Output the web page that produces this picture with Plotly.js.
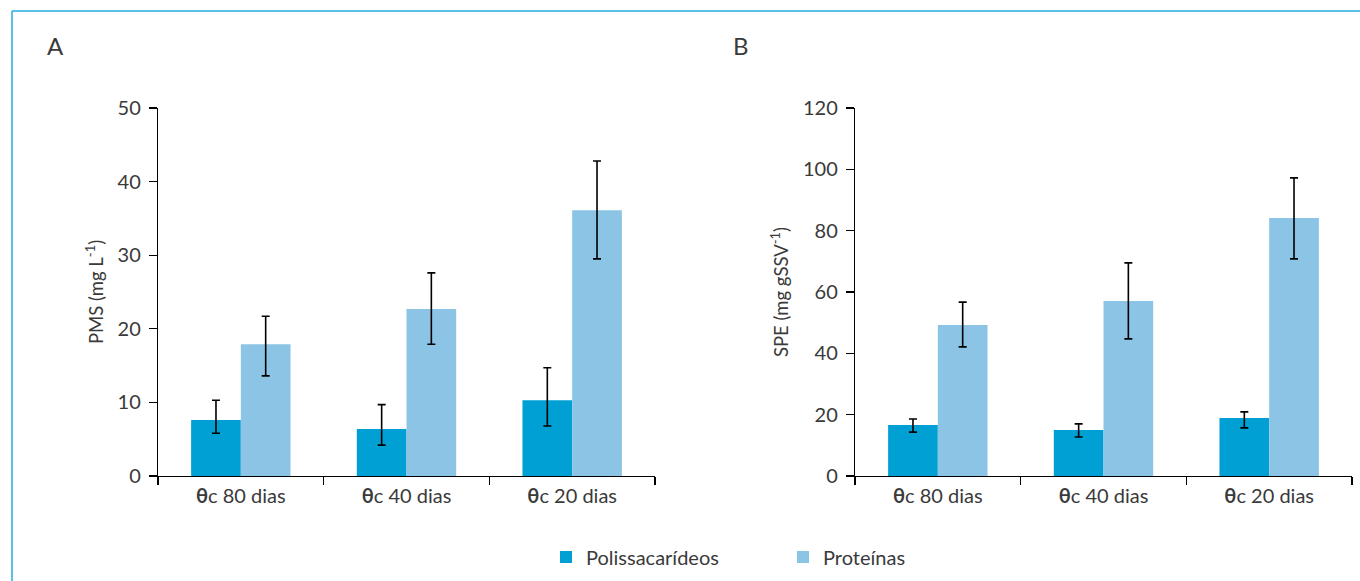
<!DOCTYPE html>
<html><head><meta charset="utf-8">
<script src="https://cdn.plot.ly/plotly-3.0.1.min.js"></script>
<style>html,body{margin:0;padding:0;background:#fff;}#chart{width:1360px;height:581px;}</style>
</head><body><div id="chart"></div>
<script>
const categories = ['<b>θ</b>c 80 dias', '<b>θ</b>c 40 dias', '<b>θ</b>c 20 dias'];
const seriesNames = ['Polissacarídeos', 'Proteínas'];
// Panel A: PMS (mg L-1)
const pmsPoli = [7.6, 6.4, 10.3];
const pmsPoliUp = [2.7, 3.3, 4.4];
const pmsPoliDown = [1.8, 2.2, 3.5];
const pmsProt = [17.9, 22.7, 36.1];
const pmsProtUp = [3.8, 4.9, 6.7];
const pmsProtDown = [4.3, 4.8, 6.6];
// Panel B: SPE (mg gSSV-1)
const spePoli = [16.6, 15.0, 18.9];
const spePoliUp = [2.0, 2.0, 2.0];
const spePoliDown = [2.3, 2.3, 3.2];
const speProt = [49.2, 57.1, 84.1];
const speProtUp = [7.5, 12.4, 13.1];
const speProtDown = [7.1, 12.4, 13.3];
const yTicksA = [0, 10, 20, 30, 40, 50];
const yTicksB = [0, 20, 40, 60, 80, 100, 120];

const cPoli = '#009fd4';
const cProt = '#8cc4e6';
const font = 'Lato, "Open Sans", sans-serif';
const txt = '#3a3a3a';

function err(up, down) {
  return {type: 'data', symmetric: false, array: up, arrayminus: down,
          color: '#000', thickness: 1.6, width: 4};
}

const traces = [
  {type: 'bar', x: categories, y: pmsPoli, name: seriesNames[0], marker: {color: cPoli},
   error_y: err(pmsPoliUp, pmsPoliDown), xaxis: 'x', yaxis: 'y', legendgroup: 'p'},
  {type: 'bar', x: categories, y: pmsProt, name: seriesNames[1], marker: {color: cProt},
   error_y: err(pmsProtUp, pmsProtDown), xaxis: 'x', yaxis: 'y', legendgroup: 'q'},
  {type: 'bar', x: categories, y: spePoli, name: seriesNames[0], marker: {color: cPoli},
   error_y: err(spePoliUp, spePoliDown), xaxis: 'x2', yaxis: 'y2', showlegend: false, legendgroup: 'p'},
  {type: 'bar', x: categories, y: speProt, name: seriesNames[1], marker: {color: cProt},
   error_y: err(speProtUp, speProtDown), xaxis: 'x2', yaxis: 'y2', showlegend: false, legendgroup: 'q'}
];

const W = 1360, H = 581;
const px = v => v / W, py = v => 1 - v / H;

const xaxisBase = {
  showline: true, linecolor: '#000', linewidth: 1.2, showgrid: false, zeroline: false,
  ticks: 'outside', tickson: 'boundaries', ticklen: 8, tickcolor: '#000', tickwidth: 1.2,
  ticklabelstandoff: 2,
  tickfont: {family: font, size: 20, color: txt}, automargin: false, fixedrange: true
};
const yaxisBase = {
  showline: true, linecolor: '#000', linewidth: 1.2, showgrid: false, zeroline: false,
  ticks: 'outside', ticklen: 8, tickcolor: '#000', tickwidth: 1.2, ticklabelstandoff: 4,
  tickfont: {family: font, size: 20, color: txt}, automargin: false, fixedrange: true
};

const layout = {
  width: W, height: H,
  margin: {l: 0, r: 0, t: 0, b: 0},
  paper_bgcolor: '#fff', plot_bgcolor: '#fff',
  barmode: 'group', bargap: 0.4, bargroupgap: 0,
  font: {family: font, color: txt},
  xaxis: Object.assign({}, xaxisBase, {domain: [px(158), px(655)], anchor: 'y'}),
  xaxis2: Object.assign({}, xaxisBase, {domain: [px(855), px(1352)], anchor: 'y2'}),
  yaxis: Object.assign({}, yaxisBase, {domain: [py(476), py(108)], anchor: 'x', range: [0, 50],
    tickvals: yTicksA, title: {text: 'PMS (mg L<sup>-1</sup>)', font: {family: font, size: 18.5, color: txt}, standoff: 9}}),
  yaxis2: Object.assign({}, yaxisBase, {domain: [py(476), py(108)], anchor: 'x2', range: [0, 120],
    tickvals: yTicksB, title: {text: 'SPE (mg gSSV<sup>-1</sup>)', font: {family: font, size: 18.5, color: txt}, standoff: 9}}),
  showlegend: true,
  legend: {orientation: 'h', x: px(546), xanchor: 'left', y: py(557), yanchor: 'middle',
    entrywidth: 192, entrywidthmode: 'pixels',
    font: {family: font, size: 20, color: txt}, bgcolor: 'rgba(0,0,0,0)'},
  annotations: [
    {text: 'A', xref: 'paper', yref: 'paper', x: px(55), y: py(45), xanchor: 'center', yanchor: 'middle',
     showarrow: false, font: {family: font, size: 24, color: txt}},
    {text: 'B', xref: 'paper', yref: 'paper', x: px(741), y: py(45), xanchor: 'center', yanchor: 'middle',
     showarrow: false, font: {family: font, size: 24, color: txt}}
  ],
  shapes: [
    {type: 'line', xref: 'paper', yref: 'paper', x0: px(12), x1: 1, y0: py(11), y1: py(11),
     line: {color: '#29abe2', width: 1.5}},
    {type: 'line', xref: 'paper', yref: 'paper', x0: px(12), x1: px(12), y0: py(11), y1: 0,
     line: {color: '#29abe2', width: 1.5}}
  ]
};

Plotly.newPlot('chart', traces, layout, {displayModeBar: false, staticPlot: true});
</script></body></html>
